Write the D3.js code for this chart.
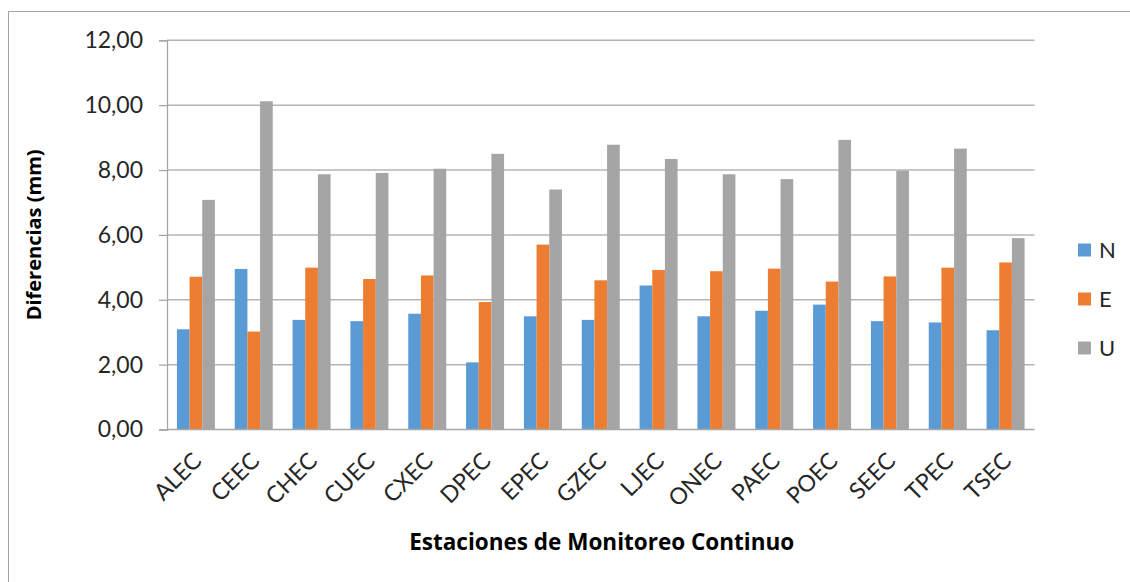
<!DOCTYPE html>
<html>
<head>
<meta charset="utf-8">
<script src="https://cdn.jsdelivr.net/npm/d3@7"></script>
<style>
  html, body { margin: 0; padding: 0; background: #fff; }
  svg { display: block; font-family: Lato, "Open Sans", sans-serif; }
</style>
</head>
<body>
<svg id="chart" width="1130" height="582"></svg>
<script>
// Stations (categories)
const stations = ["ALEC","CEEC","CHEC","CUEC","CXEC","DPEC","EPEC","GZEC","LJEC","ONEC","PAEC","POEC","SEEC","TPEC","TSEC"];

// Differences per component, in mm
const valuesN = [3.09, 4.95, 3.38, 3.34, 3.57, 2.07, 3.49, 3.38, 4.44, 3.49, 3.66, 3.85, 3.34, 3.30, 3.06];
const valuesE = [4.71, 3.02, 4.99, 4.64, 4.75, 3.93, 5.70, 4.60, 4.92, 4.88, 4.96, 4.56, 4.72, 4.99, 5.15];
const valuesU = [7.08, 10.12, 7.87, 7.91, 8.04, 8.50, 7.40, 8.78, 8.34, 7.87, 7.72, 8.93, 7.98, 8.66, 5.90];

const seriesNames = ["N", "E", "U"];
const seriesColors = ["#5b9bd5", "#ed7d31", "#a5a5a5"];
const yTicks = [0, 2, 4, 6, 8, 10, 12];

const seriesValues = [valuesN, valuesE, valuesU];

const svg = d3.select("#chart");

// chart area border
svg.append("rect")
  .attr("x", 8.5).attr("y", 11.5)
  .attr("width", 1140).attr("height", 600)
  .attr("fill", "none").attr("stroke", "#a6a6a6").attr("stroke-width", 1);

const plot = { left: 167, right: 1034.5, top: 40.3, bottom: 429.5 };

const x0 = d3.scaleBand()
  .domain(stations)
  .range([plot.left, plot.right])
  .paddingInner(0.343)
  .paddingOuter(0.1715);

const x1 = d3.scaleBand()
  .domain(seriesNames)
  .range([0, x0.bandwidth()]);

const y = d3.scaleLinear().domain([0, 12]).range([plot.bottom, plot.top]);

const fmt = v => d3.format(".2f")(v).replace(".", ",");

// horizontal gridlines
svg.append("g")
  .selectAll("line")
  .data(yTicks.filter(t => t > 0))
  .join("line")
  .attr("x1", plot.left).attr("x2", plot.right)
  .attr("y1", d => y(d)).attr("y2", d => y(d))
  .attr("stroke", "#b4b4b4").attr("stroke-width", 1.5);

// bars
const groups = svg.append("g")
  .selectAll("g")
  .data(stations)
  .join("g")
  .attr("transform", d => `translate(${x0(d)},0)`);

groups.selectAll("rect")
  .data((d, i) => seriesNames.map((s, j) => ({ s, v: seriesValues[j][i], c: seriesColors[j] })))
  .join("rect")
  .attr("x", d => x1(d.s))
  .attr("width", x1.bandwidth())
  .attr("y", d => y(d.v))
  .attr("height", d => y(0) - y(d.v))
  .attr("fill", d => d.c);

// y axis
const yAxis = d3.axisLeft(y)
  .tickValues(yTicks)
  .tickFormat(fmt)
  .tickSize(8)
  .tickPadding(16);

const gy = svg.append("g")
  .attr("transform", `translate(${plot.left},0)`)
  .call(yAxis);
gy.select(".domain").attr("stroke", "#a6a6a6").attr("stroke-width", 1.3);
gy.selectAll(".tick line").attr("stroke", "#a6a6a6").attr("stroke-width", 1.3);
gy.selectAll(".tick text")
  .attr("font-size", 23)
  .attr("fill", "#262626")
  .attr("font-family", "Lato, sans-serif");

// x axis baseline and rotated station labels
const xAxis = d3.axisBottom(x0).tickSize(0).tickPadding(0);
const gx = svg.append("g")
  .attr("transform", `translate(0,${plot.bottom})`)
  .call(xAxis);
gx.select(".domain").attr("stroke", "#a6a6a6").attr("stroke-width", 1.5)
  .attr("d", `M${plot.left},0H${plot.right}`);
gx.selectAll(".tick text")
  .attr("font-size", 23)
  .attr("fill", "#262626")
  .attr("font-family", "Lato, sans-serif")
  .attr("text-anchor", "end")
  .attr("dy", 0)
  .attr("transform", "translate(7,33) rotate(-45)");

// axis titles
svg.append("text")
  .attr("transform", `translate(41,${(plot.top + plot.bottom) / 2}) rotate(-90)`)
  .attr("text-anchor", "middle")
  .attr("font-family", "'Open Sans', sans-serif")
  .attr("font-size", 20)
  .attr("font-weight", "bold")
  .attr("fill", "#000")
  .text("Diferencias (mm)");

svg.append("text")
  .attr("x", 601.7)
  .attr("y", 549.5)
  .attr("text-anchor", "middle")
  .attr("font-family", "'Open Sans', sans-serif")
  .attr("font-size", 22.5)
  .attr("font-weight", "bold")
  .attr("fill", "#000")
  .text("Estaciones de Monitoreo Continuo");

// legend
const legend = svg.append("g")
  .selectAll("g")
  .data(seriesNames)
  .join("g")
  .attr("transform", (d, i) => `translate(1078,${250 + i * 49})`);

legend.append("rect")
  .attr("x", 0).attr("y", -6.5)
  .attr("width", 13).attr("height", 13)
  .attr("fill", (d, i) => seriesColors[i]);

legend.append("text")
  .attr("x", 21).attr("y", 0)
  .attr("dy", "0.35em")
  .attr("font-size", 22)
  .attr("fill", "#262626")
  .text(d => d);
</script>
</body>
</html>
